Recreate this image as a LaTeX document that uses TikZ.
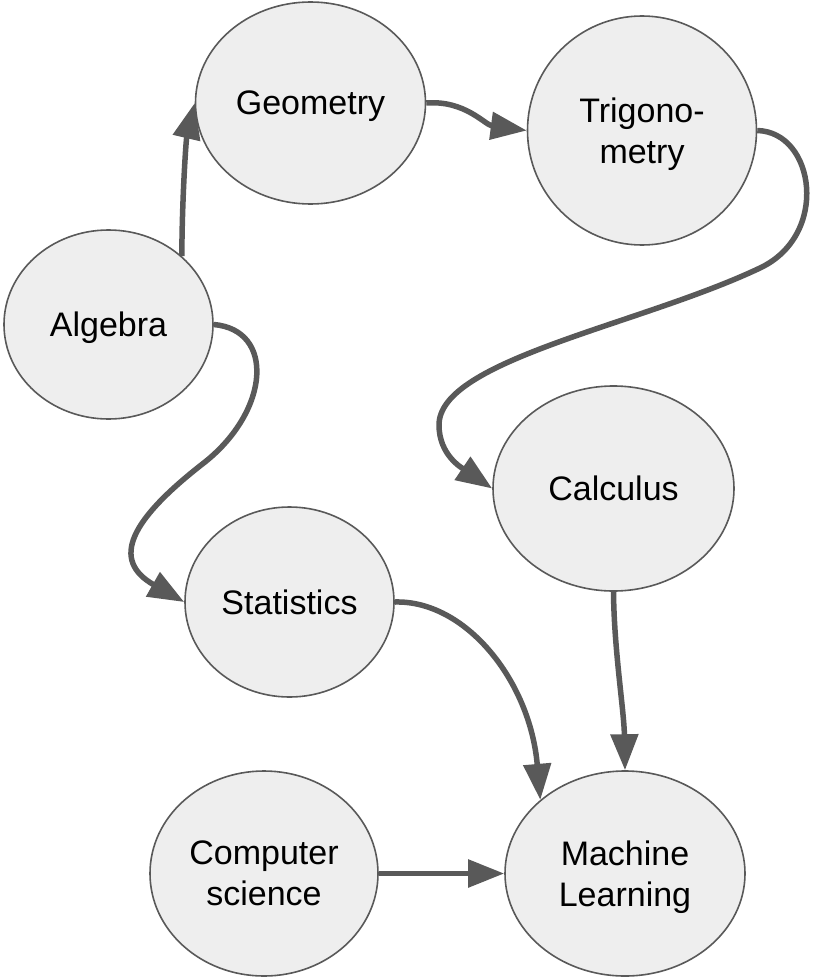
\documentclass[tikz,border=0pt]{standalone}
\usepackage{fontspec}
\setmainfont{Liberation Sans}
\usetikzlibrary{shapes.geometric,arrows.meta}
\definecolor{edgegray}{HTML}{595959}
\definecolor{nodefill}{HTML}{EEEEEE}
\begin{document}
\begin{tikzpicture}[x=1pt,y=-1pt,
  topic/.style={ellipse,draw=edgegray,line width=1.6pt,fill=nodefill,inner sep=0pt,
    align=center,text depth=0pt,font=\fontsize{34}{41}\selectfont},
  link/.style={draw=edgegray,line width=5.5pt,-{Triangle[length=36pt,width=27pt]}}]
\useasboundingbox (0,0) rectangle (814,979);

\node[topic,minimum width=230pt,minimum height=202pt] (geo) at (310.5,103) {Geometry};
\node[topic,minimum width=229pt,minimum height=229pt] (trig) at (642,130.5) {Trigono-\\metry};
\node[topic,minimum width=209pt,minimum height=189pt] (alg) at (108.5,324.5) {Algebra};
\node[topic,minimum width=241pt,minimum height=205pt] (calc) at (613.5,488.5) {Calculus};
\node[topic,minimum width=209pt,minimum height=190pt] (stat) at (289.5,602) {Statistics};
\node[topic,minimum width=228pt,minimum height=205pt] (cs) at (264,873.5) {Computer\\science};
\node[topic,minimum width=240pt,minimum height=205pt] (ml) at (625,873.5) {Machine\\Learning};

\draw[link] (alg.43) .. controls (182,200) and (186,140) .. (geo.west);
\draw[link] (geo.east) .. controls (465,100) and (485,125) .. (trig.west);
\draw[link] (trig.east) .. controls (815,132) and (830,235) .. (760,268)
  .. controls (640,325) and (439,360) .. (439,425)
  .. controls (439,455) and (462,468) .. (calc.west);
\draw[link] (alg.east) .. controls (275,330) and (270,410) .. (205,462)
  .. controls (130,520) and (110,560) .. (stat.west);
\draw[link] (stat.east) .. controls (465,600) and (530,680) .. (ml.139);
\draw[link] (calc.south) .. controls (614,650) and (624,710) .. (ml.north);
\draw[link] (cs.east) -- (ml.west);
\end{tikzpicture}
\end{document}
